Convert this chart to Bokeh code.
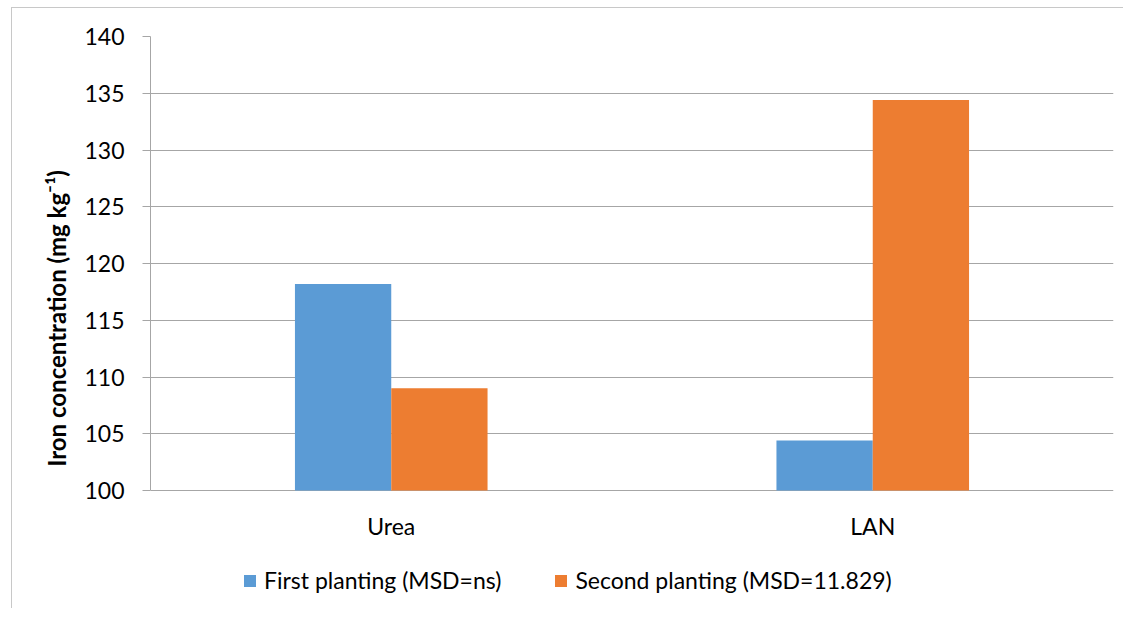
from bokeh.plotting import figure
from bokeh.models import ColumnDataSource, FactorRange, Legend, LegendItem, FixedTicker
from bokeh.core.properties import value
from bokeh.transform import dodge
from bokeh.embed import file_html
from bokeh.resources import INLINE

categories = ["Urea", "LAN"]
first_planting = [118.2, 104.4]
second_planting = [109.0, 134.4]
series_names = ["First planting (MSD=ns)", "Second planting (MSD=11.829)"]
y_ticks = [100, 105, 110, 115, 120, 125, 130, 135, 140]
y_title = "Iron concentration (mg kg\u207b\u00b9)"

Y_BASE = 100
Y_TOP = 140
# extra room below the value axis to hold the category labels and the legend
Y_LOW = Y_BASE - 110 * (Y_TOP - Y_BASE) / 454

src = ColumnDataSource(dict(cat=categories, first=first_planting, second=second_planting,
                            base=[Y_BASE] * len(categories)))

FONT = "Lato"

p = figure(
    x_range=FactorRange(*categories, range_padding=0),
    y_range=(Y_LOW, Y_TOP),
    frame_width=963, frame_height=564,
    min_border_left=138, min_border_top=28, min_border_right=10, min_border_bottom=8,
    output_backend="svg", toolbar_location=None,
)
p.styles = {"margin-left": "11px", "margin-top": "7px",
            "border-top": "1px solid #c8c8c8", "border-left": "1px solid #c8c8c8"}

r1 = p.vbar(x=dodge("cat", -0.1, range=p.x_range), top="first", bottom="base", width=0.2,
            source=src, fill_color="#5B9BD5", line_color=None)
r2 = p.vbar(x=dodge("cat", 0.1, range=p.x_range), top="second", bottom="base", width=0.2,
            source=src, fill_color="#ED7D31", line_color=None)

# category labels under the value axis
p.text(x="cat", y="base", text="cat", source=src, y_offset=35,
       text_align="center", text_baseline="middle",
       text_font=value(FONT), text_font_size="23px", text_color="#000000")

p.outline_line_color = None
p.xaxis.visible = False
p.xgrid.grid_line_color = None
p.ygrid.grid_line_color = "#a6a6a6"
p.ygrid.grid_line_width = 1

p.yaxis.ticker = FixedTicker(ticks=y_ticks)
p.yaxis.bounds = (Y_BASE, Y_TOP)
p.yaxis.axis_line_color = "#a6a6a6"
p.yaxis.major_tick_line_color = "#a6a6a6"
p.yaxis.major_tick_out = 8
p.yaxis.major_tick_in = 0
p.yaxis.minor_tick_line_color = None
p.yaxis.major_label_standoff = 18
p.yaxis.major_label_text_font = FONT
p.yaxis.major_label_text_font_size = "23px"
p.yaxis.major_label_text_color = "#000000"
p.yaxis.axis_label = y_title
p.yaxis.axis_label_text_font = FONT
p.yaxis.axis_label_text_font_style = "bold"
p.yaxis.axis_label_text_font_size = "24px"
p.yaxis.axis_label_text_color = "#000000"
p.yaxis.axis_label_standoff = 10

legend = Legend(
    items=[LegendItem(label=series_names[0], renderers=[r1]),
           LegendItem(label=series_names[1], renderers=[r2])],
    orientation="horizontal", location=(92, 6),
    label_text_font=FONT, label_text_font_size="23px", label_text_color="#000000",
    glyph_width=15, glyph_height=15, spacing=52, label_standoff=7,
    border_line_color=None, background_fill_alpha=0, margin=0, padding=0,
)
p.add_layout(legend, "center")

open("out.html", "w").write(file_html(p, INLINE))
